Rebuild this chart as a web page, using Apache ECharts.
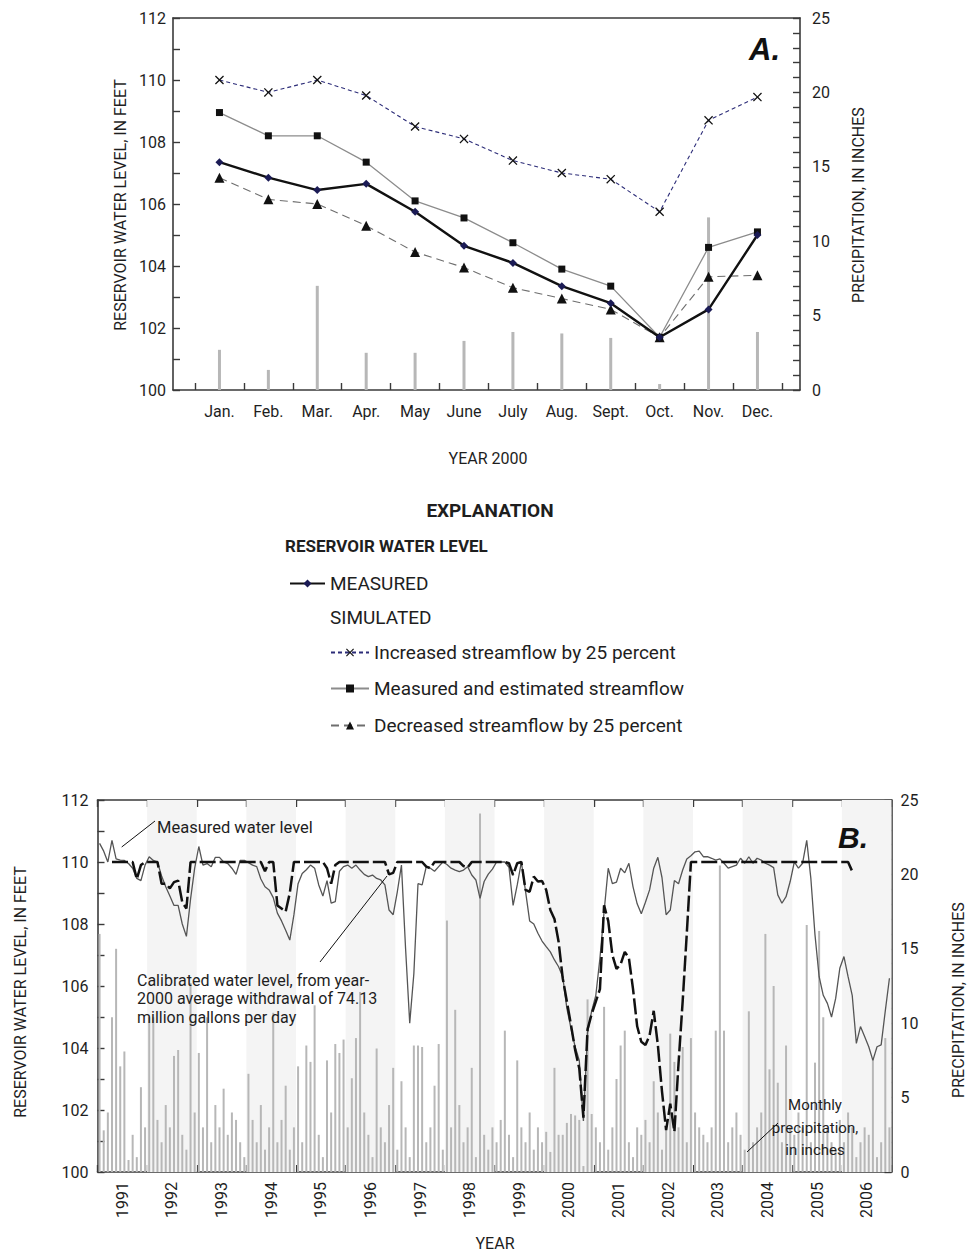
<!DOCTYPE html>
<html><head><meta charset="utf-8">
<script src="https://cdn.jsdelivr.net/npm/echarts@6/dist/echarts.min.js"></script>
<style>html,body{margin:0;padding:0;background:#fff}#c{width:975px;height:1253px}</style>
</head><body><div id="c"></div>
<script>
// ---------- Panel A data (year 2000) ----------
const monthsA = ['Jan.','Feb.','Mar.','Apr.','May','June','July','Aug.','Sept.','Oct.','Nov.','Dec.'];
const increasedA = [110.0,109.6,110.0,109.5,108.5,108.1,107.4,107.0,106.8,105.75,108.7,109.45];
const simulatedA = [108.95,108.2,108.2,107.35,106.1,105.55,104.75,103.9,103.35,101.7,104.6,105.1];
const measuredA  = [107.35,106.85,106.45,106.65,105.75,104.65,104.1,103.35,102.8,101.7,102.6,105.0];
const decreasedA = [106.85,106.15,106.0,105.3,104.45,103.95,103.3,102.95,102.6,101.7,103.65,103.7];
const precipA    = [2.7,1.35,7.0,2.5,2.5,3.3,3.9,3.8,3.5,0.4,11.6,3.9];

// ---------- Panel B data (monthly, Jan 1991 - Dec 2006) ----------
const startYearB = 1991;
const yearsB = ['1991','1992','1993','1994','1995','1996','1997','1998','1999','2000','2001','2002','2003','2004','2005','2006'];
const shadedYearsB = [1992,1994,1996,1998,2000,2002,2004,2006];
const measuredB = [
 110.6,110.35,110.0,110.7,110.1,110.06,110.05,109.95,109.8,109.47,109.4,109.9,
 110.17,110.05,110.0,109.55,109.2,108.9,108.6,108.6,108.0,107.6,108.8,109.8,
 110.5,109.9,109.95,109.85,110.15,110.15,110.0,109.95,109.8,109.6,110.05,110.05,
 109.98,109.9,109.85,109.45,109.2,109.1,108.85,108.35,108.1,107.8,107.48,108.3,
 109.3,109.63,109.75,109.9,109.8,109.26,108.9,109.4,108.67,108.72,109.7,109.85,
 109.9,109.8,109.9,109.74,109.6,109.53,109.58,109.47,109.42,109.26,108.45,108.3,
 109.04,109.9,107.2,104.8,106.4,109.3,109.26,109.85,109.8,109.7,109.85,110.0,
 109.92,109.8,109.74,109.69,109.74,109.85,109.58,109.42,108.83,109.37,109.61,109.77,
 110.0,110.0,110.0,109.83,108.6,109.26,110.0,109.06,108.1,108.0,107.7,107.45,
 107.27,107.1,106.84,106.62,106.3,105.28,104.63,104.04,103.6,101.65,104.5,105.2,
 105.7,106.9,108.4,109.8,109.3,109.35,109.8,109.65,109.96,109.2,108.65,108.33,
 108.7,109.1,109.8,110.15,109.5,108.3,108.45,109.4,109.3,109.74,110.1,110.2,
 110.33,110.35,110.17,110.17,110.12,110.06,110.1,109.96,109.8,109.85,109.9,110.12,
 109.96,110.17,109.96,110.12,110.06,109.96,109.9,109.82,108.94,108.67,108.88,109.37,
 110.0,109.8,109.96,110.7,109.47,107.65,106.3,105.7,105.44,105.0,105.6,106.57,
 106.95,106.3,105.7,104.15,104.69,104.37,104.04,103.6,104.04,104.1,105.2,106.25
];
const calibratedB = [
 null,null,null,110,110,110,110,110,110,109.45,109.9,110,
 110,110,110,109.3,109.3,109.15,109.35,109.4,108.7,108.5,110,110,
 110,110,110,110,110,110,110,110,110,110,110,110,
 110,110,110,110,109.7,110,110,108.6,108.5,108.4,109.0,110,
 110,110,110,110,110,110,110,109.8,109.3,109.9,110,110,
 110,110,110,110,110,110,110,110,110,110,109.6,109.65,
 110,110,110,110,110,110,110,109.85,109.8,110,110,110,
 110,110,110,110,109.87,109.82,110,110,110,110,110,110,
 110,110,110,109.96,109.58,109.96,110,109.1,109.04,109.53,109.37,109.39,
 109.1,108.45,108.16,107.43,106.25,105.5,104.74,103.94,103.34,101.75,104.6,105.1,
 105.5,105.9,108.6,108.1,107.0,106.55,106.7,107.1,106.9,105.9,104.7,104.2,
 104.1,104.4,105.2,104.1,102.6,101.35,102.2,101.3,103.5,105.5,107.7,110,
 110,110,110,110,110,110,110,110,110,110,110,110,
 110,110,110,110,110,110,110,110,110,110,110,110,
 110,110,110,110,110,110,110,110,110,110,110,110,
 110,110,109.7,null,null,null,null,null,null,null,null,null
];
const precipB = [
 16.0,2.8,4.0,10.4,15.0,7.1,8.1,0.8,2.5,1.0,5.7,3.0,
 10.4,10.4,3.5,2.0,4.5,3.0,7.8,8.2,2.5,1.5,12.7,4.0,
 8.0,3.0,10.4,2.0,4.5,3.0,5.6,2.5,4.0,3.5,2.0,1.0,
 6.6,3.5,2.0,4.5,1.5,3.0,10.7,2.0,3.5,5.8,1.5,3.0,
 7.1,2.0,8.5,7.4,11.2,2.5,1.0,7.5,4.0,8.6,8.0,8.9,
 3.0,6.3,9.0,12.1,4.0,2.5,1.0,8.3,3.0,2.0,4.5,7.0,
 1.5,6.1,3.0,1.0,8.5,8.5,8.4,2.0,3.0,5.8,8.6,1.5,
 16.9,3.0,10.9,4.5,2.0,3.0,7.0,1.0,24.1,2.5,1.5,3.0,
 2.0,3.5,9.5,2.5,1.0,7.5,3.0,2.0,4.0,1.5,3.0,2.0,
 2.7,1.35,7.0,2.5,2.5,3.3,3.9,3.8,3.5,0.4,11.6,3.9,
 3.0,2.0,11.1,1.5,3.0,6.25,8.5,9.5,2.0,1.0,3.0,2.5,
 3.5,2.0,6.1,4.0,1.5,3.0,9.3,7.4,3.0,8.4,2.0,9.0,
 4.0,3.0,2.5,2.0,3.0,9.5,20.6,9.5,2.0,3.0,4.0,2.5,
 1.5,10.8,2.0,3.0,4.0,16.0,6.9,12.5,6.0,2.0,8.5,3.0,
 2.5,4.0,3.0,16.6,2.0,7.35,16.2,10.4,3.0,2.0,1.5,3.5,
 2.0,4.0,3.0,1.0,2.0,3.0,2.5,7.6,1.0,2.0,9.0,3.0
];

// ---------- helpers ----------
const FONT = "Roboto, 'Liberation Sans', Arial, sans-serif";
const AXIS = '#3a3a3a';
const TXT = '#1e1e1e';
const monthX = i => startYearB + (i + 0.5) / 12;
const pairsB = arr => arr.map((v, i) => [monthX(i), v]);
const pairsA = arr => arr.map((v, i) => [i, v]);
const X_SYMBOL = 'path://M1,0L5,4L9,0L10,1L6,5L10,9L9,10L5,6L1,10L0,9L4,5L0,1Z';

const chart = echarts.init(document.getElementById('c'), null, {renderer: 'svg', width: 975, height: 1253});

const axisLine = {show: true, onZero: false, lineStyle: {color: AXIS, width: 1.6}};
const tick = {show: true, inside: true, length: 7, lineStyle: {color: AXIS, width: 1.4}};
const lbl = {color: TXT, fontSize: 16, fontFamily: FONT};

const graphics = [
  // Panel A titles
  {type: 'text', x: 120, y: 205, rotation: Math.PI / 2,
   style: {text: 'RESERVOIR WATER LEVEL, IN FEET', fill: TXT, font: '16px ' + FONT, align: 'center', verticalAlign: 'middle'}},
  {type: 'text', x: 858, y: 205, rotation: Math.PI / 2,
   style: {text: 'PRECIPITATION, IN INCHES', fill: TXT, font: '16px ' + FONT, align: 'center', verticalAlign: 'middle'}},
  {type: 'text', x: 488, y: 458,
   style: {text: 'YEAR 2000', fill: TXT, font: '16px ' + FONT, align: 'center', verticalAlign: 'middle'}},
  {type: 'text', x: 749, y: 49,
   style: {text: 'A.', fill: '#111', font: 'italic bold 31px "Liberation Sans", Arial, sans-serif', align: 'left', verticalAlign: 'middle'}},
  // Explanation
  {type: 'text', x: 490, y: 510,
   style: {text: 'EXPLANATION', fill: TXT, font: 'bold 19px ' + FONT, align: 'center', verticalAlign: 'middle'}},
  {type: 'text', x: 285, y: 546,
   style: {text: 'RESERVOIR WATER LEVEL', fill: TXT, font: 'bold 17px ' + FONT, align: 'left', verticalAlign: 'middle'}},
  {type: 'text', x: 330, y: 617,
   style: {text: 'SIMULATED', fill: TXT, font: '19px ' + FONT, align: 'left', verticalAlign: 'middle'}},
  // Panel B titles
  {type: 'text', x: 20, y: 992, rotation: Math.PI / 2,
   style: {text: 'RESERVOIR WATER LEVEL, IN FEET', fill: TXT, font: '16px ' + FONT, align: 'center', verticalAlign: 'middle'}},
  {type: 'text', x: 958, y: 1000, rotation: Math.PI / 2,
   style: {text: 'PRECIPITATION, IN INCHES', fill: TXT, font: '16px ' + FONT, align: 'center', verticalAlign: 'middle'}},
  {type: 'text', x: 495, y: 1243,
   style: {text: 'YEAR', fill: TXT, font: '16px ' + FONT, align: 'center', verticalAlign: 'middle'}},
  {type: 'text', x: 838, y: 837,
   style: {text: 'B.', fill: '#111', font: 'italic bold 30px "Liberation Sans", Arial, sans-serif', align: 'left', verticalAlign: 'middle'}},
  // Panel B annotations
  {type: 'line', shape: {x1: 121.7, y1: 847, x2: 155, y2: 821}, style: {stroke: '#111', lineWidth: 1}},
  {type: 'text', x: 157, y: 827,
   style: {text: 'Measured water level', fill: TXT, font: '16.5px ' + FONT, align: 'left', verticalAlign: 'middle'}},
  {type: 'line', shape: {x1: 320, y1: 962, x2: 387, y2: 876}, style: {stroke: '#111', lineWidth: 1}},
  {type: 'text', x: 137, y: 971,
   style: {text: 'Calibrated water level, from year-\n2000 average withdrawal of 74.13\nmillion gallons per day',
           fill: TXT, font: '16px ' + FONT, lineHeight: 18.5, align: 'left', verticalAlign: 'top'}},
  {type: 'line', shape: {x1: 747, y1: 1152, x2: 778, y2: 1123}, style: {stroke: '#111', lineWidth: 1}},
  {type: 'text', x: 815, y: 1094,
   style: {text: 'Monthly\nprecipitation,\nin inches', fill: TXT, font: '15px ' + FONT, lineHeight: 22.5,
           align: 'center', verticalAlign: 'top'}}
].map(g => Object.assign({z: 100, silent: true}, g));

const option = {
  backgroundColor: '#fff',
  animation: false,
  textStyle: {fontFamily: FONT},
  grid: [
    {left: 173, top: 18, width: 627, height: 372},
    {left: 97.5, top: 800, width: 794, height: 372}
  ],
  xAxis: [
    {gridIndex: 0, type: 'value', min: -0.95, max: 11.87, position: 'bottom',
     axisLine, splitLine: {show: false},
     axisTick: Object.assign({}, tick, {customValues: monthsA.map((m, i) => i - 0.5).concat([11.5])}),
     axisLabel: Object.assign({}, lbl, {margin: 13, customValues: monthsA.map((m, i) => i),
                formatter: v => monthsA[Math.round(v)]})},
    {gridIndex: 0, type: 'value', min: -0.95, max: 11.87, position: 'top',
     axisLine, splitLine: {show: false}, axisTick: {show: false}, axisLabel: {show: false}},
    {gridIndex: 1, type: 'value', min: 1991, max: 2007, interval: 1, position: 'bottom',
     axisLine, splitLine: {show: false}, axisTick: tick,
     axisLabel: Object.assign({}, lbl, {rotate: 90, margin: 10,
                customValues: yearsB.map(y => Number(y) + 0.5),
                formatter: v => String(Math.floor(v))})},
    {gridIndex: 1, type: 'value', min: 1991, max: 2007, interval: 1, position: 'top',
     axisLine, splitLine: {show: false}, axisTick: tick, axisLabel: {show: false}}
  ],
  yAxis: [
    {gridIndex: 0, type: 'value', min: 100, max: 112, interval: 1, position: 'left',
     axisLine, splitLine: {show: false}, axisTick: tick,
     axisLabel: Object.assign({}, lbl, {margin: 7, formatter: v => (v % 2 === 0 ? String(v) : '')})},
    {gridIndex: 0, type: 'value', min: 0, max: 25, interval: 1, position: 'right',
     axisLine, splitLine: {show: false}, axisTick: tick,
     axisLabel: Object.assign({}, lbl, {margin: 12, formatter: v => (v % 5 === 0 ? String(v) : '')})},
    {gridIndex: 1, type: 'value', min: 100, max: 112, interval: 1, position: 'left',
     axisLine, splitLine: {show: false}, axisTick: tick,
     axisLabel: Object.assign({}, lbl, {margin: 9, formatter: v => (v % 2 === 0 ? String(v) : '')})},
    {gridIndex: 1, type: 'value', min: 0, max: 25, interval: 1, position: 'right',
     axisLine, splitLine: {show: false}, axisTick: tick,
     axisLabel: Object.assign({}, lbl, {margin: 9, formatter: v => (v % 5 === 0 ? String(v) : '')})}
  ],
  legend: [
    {data: ['MEASURED'], left: 289, top: 574, padding: 0, itemWidth: 35, itemHeight: 10,
     textStyle: {fontSize: 19, color: TXT, fontFamily: FONT}},
    {data: ['Increased streamflow by 25 percent'], left: 330, top: 643, padding: 0, itemWidth: 38, itemHeight: 10,
     textStyle: {fontSize: 19, color: TXT, fontFamily: FONT}},
    {data: ['Measured and estimated streamflow'], left: 330, top: 679, padding: 0, itemWidth: 38, itemHeight: 10,
     textStyle: {fontSize: 19, color: TXT, fontFamily: FONT}},
    {data: ['Decreased streamflow by 25 percent'], left: 330, top: 716, padding: 0, itemWidth: 38, itemHeight: 10,
     textStyle: {fontSize: 19, color: TXT, fontFamily: FONT}}
  ],
  series: [
    // Panel A
    {name: 'Precipitation 2000', type: 'bar', xAxisIndex: 0, yAxisIndex: 1, barWidth: 3,
     itemStyle: {color: '#b7b7b7'}, data: pairsA(precipA), z: 1},
    {name: 'Decreased streamflow by 25 percent', type: 'line', xAxisIndex: 0, yAxisIndex: 0,
     data: pairsA(decreasedA), symbol: 'triangle', symbolSize: 10,
     lineStyle: {color: '#6e6e6e', width: 1.1, type: [8, 5]}, itemStyle: {color: '#111'}, z: 3},
    {name: 'Increased streamflow by 25 percent', type: 'line', xAxisIndex: 0, yAxisIndex: 0,
     data: pairsA(increasedA), symbol: X_SYMBOL, symbolSize: 9,
     lineStyle: {color: '#2c2c78', width: 1.1, type: [4, 3]}, itemStyle: {color: '#111'}, z: 3},
    {name: 'Measured and estimated streamflow', type: 'line', xAxisIndex: 0, yAxisIndex: 0,
     data: pairsA(simulatedA), symbol: 'rect', symbolSize: 7,
     lineStyle: {color: '#8c8c8c', width: 1.3}, itemStyle: {color: '#111'}, z: 4},
    {name: 'MEASURED', type: 'line', xAxisIndex: 0, yAxisIndex: 0,
     data: pairsA(measuredA), symbol: 'diamond', symbolSize: 8,
     lineStyle: {color: '#111', width: 2.4}, itemStyle: {color: '#1b1b55'}, z: 5},
    // Panel B
    {name: 'shade', type: 'line', xAxisIndex: 2, yAxisIndex: 2, data: [], silent: true, z: 0,
     markArea: {silent: true, itemStyle: {color: '#f4f4f4', opacity: 1},
       data: shadedYearsB.map(y => [{xAxis: y}, {xAxis: y + 1}])}},
    {name: 'Monthly precipitation', type: 'bar', xAxisIndex: 2, yAxisIndex: 3, barWidth: 2,
     itemStyle: {color: '#b7b7b7'}, data: pairsB(precipB), z: 1},
    {name: 'Measured water level', type: 'line', xAxisIndex: 2, yAxisIndex: 2,
     data: pairsB(measuredB), symbol: 'none', lineStyle: {color: '#555', width: 1.3}, z: 3},
    {name: 'Calibrated water level', type: 'line', xAxisIndex: 2, yAxisIndex: 2,
     data: pairsB(calibratedB), symbol: 'none', connectNulls: false,
     lineStyle: {color: '#111', width: 2.5, type: [16, 4]}, z: 4}
  ],
  graphic: graphics
};
chart.setOption(option);
</script></body></html>
